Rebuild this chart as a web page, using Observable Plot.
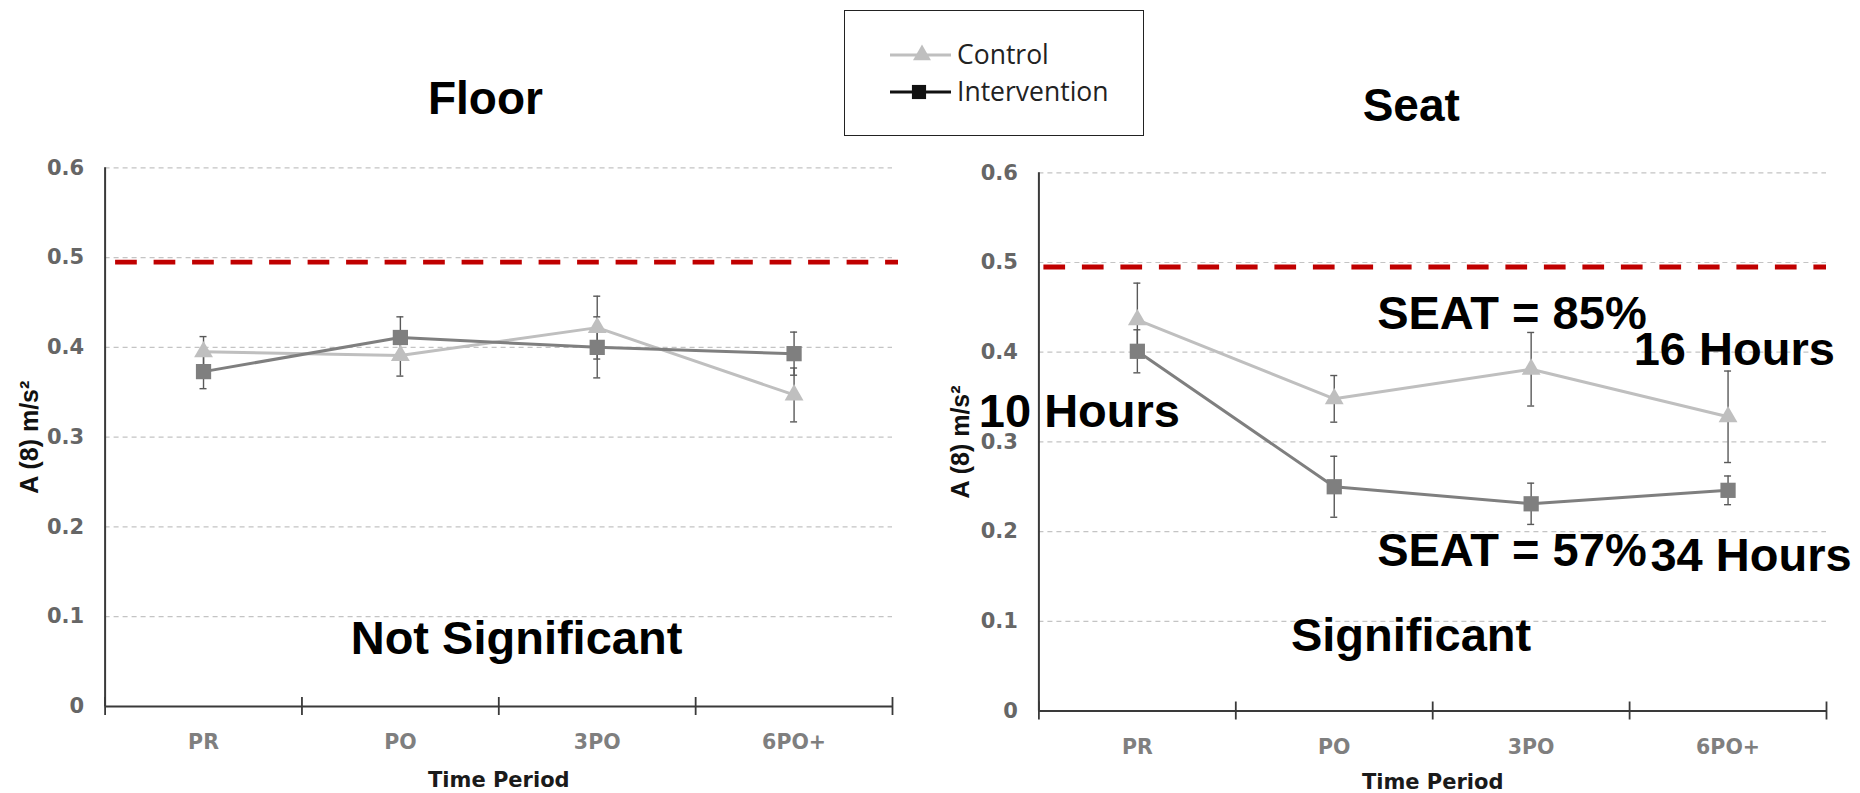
<!DOCTYPE html>
<html>
<head>
<meta charset="utf-8">
<script src="https://cdn.jsdelivr.net/npm/d3@7"></script>
<script src="https://cdn.jsdelivr.net/npm/@observablehq/plot@0.6"></script>
<style>
  html, body { margin: 0; padding: 0; background: #fff; }
  #wrap { position: relative; width: 1860px; height: 793px; overflow: hidden; background: #fff; }
  #wrap > svg { position: absolute; top: 0; }
  #legend { position: absolute; left: 844px; top: 10px; width: 298px; height: 124px; border: 1.6px solid #222; background: #fff; }
  #legend svg { position: absolute; left: 0; top: 0; }
</style>
</head>
<body>
<div id="wrap">
  <div id="legend"></div>
</div>
<script>
// ---------- data ----------
const categories = ["PR", "PO", "3PO", "6PO+"];
const yTicks = [0, 0.1, 0.2, 0.3, 0.4, 0.5, 0.6];
const gridTicks = [0.1, 0.2, 0.3, 0.4, 0.5, 0.6];
const exposureLimit = 0.495;
const seriesNames = ["Control", "Intervention"];
const panelTitles = ["Floor", "Seat"];
const xTitle = "Time Period";
const yTitle = "A (8) m/s²";

const floorControl = [0.395, 0.391, 0.422, 0.347];
const floorControlErr = [0.017, 0.023, 0.035, 0.030];
const floorIntervention = [0.373, 0.411, 0.400, 0.393];
const floorInterventionErr = [0.019, 0.023, 0.034, 0.024];

const seatControl = [0.436, 0.348, 0.381, 0.328];
const seatControlErr = [0.041, 0.026, 0.041, 0.051];
const seatIntervention = [0.401, 0.250, 0.231, 0.246];
const seatInterventionErr = [0.024, 0.034, 0.023, 0.016];

const floorNotes = ["Not Significant"];
const seatNotes = ["SEAT = 85%", "16 Hours", "10 Hours", "SEAT = 57%", "34 Hours", "Significant"];

// ---------- helpers ----------
function rows(values, errs, series) {
  return values.map((v, i) => ({i, cat: categories[i], v, e: errs[i], series}));
}

const cControl = "#bfbfbf";
const cInterv = "#7f7f7f";
const cErr = "#595959";
const cAxis = "#3a3a3a";
const tickFont = "DejaVu Sans";
const annFont = "Liberation Sans";

function noteMark(notes, anchor) {
  return Plot.text(notes.filter(d => d.anchor === anchor), {
    x: "x", y: "y", text: "text", textAnchor: anchor, lineAnchor: "bottom",
    fontFamily: annFont, fontWeight: "bold", fontSize: 47, fill: "#000"
  });
}

function panel({title, control, interv, margins, titlePos, yTitleX, notes}) {
  const data = [...control, ...interv];
  const ctl = control, itv = interv;
  return Plot.plot({
    width: 930,
    height: 793,
    ...margins,
    x: {type: "linear", domain: [0, 4], axis: null},
    y: {type: "linear", domain: [0, 0.6], axis: null},
    style: {background: "transparent", overflow: "visible"},
    marks: [
      // gridlines
      Plot.ruleY(gridTicks, {stroke: "#c4c4c4", strokeWidth: 1.2, strokeDasharray: "5,4"}),
      // exposure limit
      Plot.ruleY([exposureLimit], {stroke: "#c00000", strokeWidth: 4.8, strokeDasharray: "21.7,16.8", strokeDashoffset: titlePos.dashOffset, insetRight: titlePos.redExtend}),
      // axis lines
      Plot.ruleX([0], {y1: 0, y2: 0.6, stroke: cAxis, strokeWidth: 2}),
      Plot.ruleY([0], {stroke: cAxis, strokeWidth: 2.2}),
      // x category boundary ticks
      Plot.ruleX([0, 1, 2, 3, 4], {x: d => d, y1: 0, y2: 0, insetTop: -9, insetBottom: -9, stroke: cAxis, strokeWidth: 1.8}),
      // error bars
      Plot.ruleX(data, {x: d => d.i + 0.5, y1: d => d.v - d.e, y2: d => d.v + d.e, stroke: cErr, strokeWidth: 1.4}),
      Plot.ruleY(data, {y: d => d.v - d.e, x1: d => d.i + 0.5, x2: d => d.i + 0.5, insetLeft: -3.5, insetRight: -3.5, stroke: cErr, strokeWidth: 1.4}),
      Plot.ruleY(data, {y: d => d.v + d.e, x1: d => d.i + 0.5, x2: d => d.i + 0.5, insetLeft: -3.5, insetRight: -3.5, stroke: cErr, strokeWidth: 1.4}),
      // lines
      Plot.line(ctl, {x: d => d.i + 0.5, y: "v", stroke: cControl, strokeWidth: 3}),
      Plot.line(itv, {x: d => d.i + 0.5, y: "v", stroke: cInterv, strokeWidth: 3}),
      // markers
      Plot.dot(ctl, {x: d => d.i + 0.5, y: "v", symbol: "triangle", r: 7, fill: cControl, stroke: "none"}),
      Plot.dot(itv, {x: d => d.i + 0.5, y: "v", symbol: "square", r: 8.6, fill: cInterv, stroke: "none"}),
      // y tick labels
      Plot.text(yTicks, {x: 0, y: d => d, text: d => d === 0 ? "0" : d.toFixed(1), textAnchor: "end", dx: -21, lineAnchor: "middle", fontFamily: tickFont, fontWeight: "bold", fontSize: 21, fill: "#666666"}),
      // x tick labels
      Plot.text(categories, {x: (d, i) => i + 0.5, y: 0, text: d => d, dy: 36, lineAnchor: "middle", fontFamily: tickFont, fontWeight: "bold", fontSize: 20.5, fill: "#7f7f7f"}),
      // x title
      Plot.text([xTitle], {x: 2, y: 0, text: d => d, dy: titlePos.xTitleDy, lineAnchor: "bottom", fontFamily: tickFont, fontWeight: "bold", fontSize: 21, fill: "#1a1a1a"}),
      // y title
      Plot.text([yTitle], {x: yTitleX, y: 0.3, text: d => d, rotate: -90, textAnchor: "middle", lineAnchor: "middle", fontFamily: annFont, fontWeight: "bold", fontSize: 25, fill: "#111"}),
      // panel title
      Plot.text([title], {x: titlePos.x, y: titlePos.y, text: d => d, lineAnchor: "bottom", fontFamily: annFont, fontWeight: "bold", fontSize: 46, fill: "#000"}),
      // annotations
      noteMark(notes, "start"),
      noteMark(notes, "middle")
    ]
  });
}

const floorPlot = panel({
  title: panelTitles[0],
  control: rows(floorControl, floorControlErr, seriesNames[0]),
  interv: rows(floorIntervention, floorInterventionErr, seriesNames[1]),
  margins: {marginLeft: 104.6, marginRight: 38, marginTop: 167.3, marginBottom: 87},
  titlePos: {x: 1.932, y: 0.660, xTitleDy: 80, dashOffset: 28, redExtend: -6},
  yTitleX: -0.38,
  notes: [
    {text: floorNotes[0], x: 2.09, y: 0.0587, anchor: "middle"}
  ]
});
floorPlot.style.left = "0px";

const seatPlot = panel({
  title: panelTitles[1],
  control: rows(seatControl, seatControlErr, seriesNames[0]),
  interv: rows(seatIntervention, seatInterventionErr, seriesNames[1]),
  margins: {marginLeft: 108.4, marginRight: 34, marginTop: 172.3, marginBottom: 82.5},
  titlePos: {x: 1.891, y: 0.6575, xTitleDy: 78, dashOffset: 33.5, redExtend: 0},
  yTitleX: -0.396,
  notes: [
    {text: seatNotes[0], x: 1.718, y: 0.4261, anchor: "start"},
    {text: seatNotes[1], x: 3.021, y: 0.3852, anchor: "start"},
    {text: seatNotes[2], x: -0.305, y: 0.3164, anchor: "start"},
    {text: seatNotes[3], x: 1.718, y: 0.1622, anchor: "start"},
    {text: seatNotes[4], x: 3.106, y: 0.1566, anchor: "start"},
    {text: seatNotes[5], x: 1.890, y: 0.0674, anchor: "middle"}
  ]
});
seatPlot.style.left = "930px";

const wrap = document.getElementById("wrap");
wrap.insertBefore(seatPlot, wrap.firstChild);
wrap.insertBefore(floorPlot, wrap.firstChild);

// ---------- legend ----------
const ns = "http://www.w3.org/2000/svg";
const lg = document.createElementNS(ns, "svg");
lg.setAttribute("width", 298);
lg.setAttribute("height", 124);
const legendItems = [
  {name: seriesNames[0], color: cControl, symbol: d3.symbolTriangle, size: 140, lineY: 44, textY: 53},
  {name: seriesNames[1], color: "#111", symbol: d3.symbolSquare, size: 200, lineY: 81, textY: 90}
];
legendItems.forEach(it => {
  const l = document.createElementNS(ns, "line");
  l.setAttribute("x1", 45); l.setAttribute("x2", 106);
  l.setAttribute("y1", it.lineY); l.setAttribute("y2", it.lineY);
  l.setAttribute("stroke", it.color); l.setAttribute("stroke-width", 3);
  lg.appendChild(l);
  const p = document.createElementNS(ns, "path");
  p.setAttribute("d", d3.symbol(it.symbol, it.size)());
  p.setAttribute("transform", `translate(${it.symbol === d3.symbolTriangle ? 77 : 74},${it.lineY})`);
  p.setAttribute("fill", it.color);
  lg.appendChild(p);
  const t = document.createElementNS(ns, "text");
  t.setAttribute("x", 112); t.setAttribute("y", it.textY);
  t.setAttribute("font-family", "Open Sans");
  t.setAttribute("font-size", 26.5);
  t.setAttribute("fill", "#222");
  t.textContent = it.name;
  lg.appendChild(t);
});
document.getElementById("legend").appendChild(lg);
</script>
</body>
</html>
